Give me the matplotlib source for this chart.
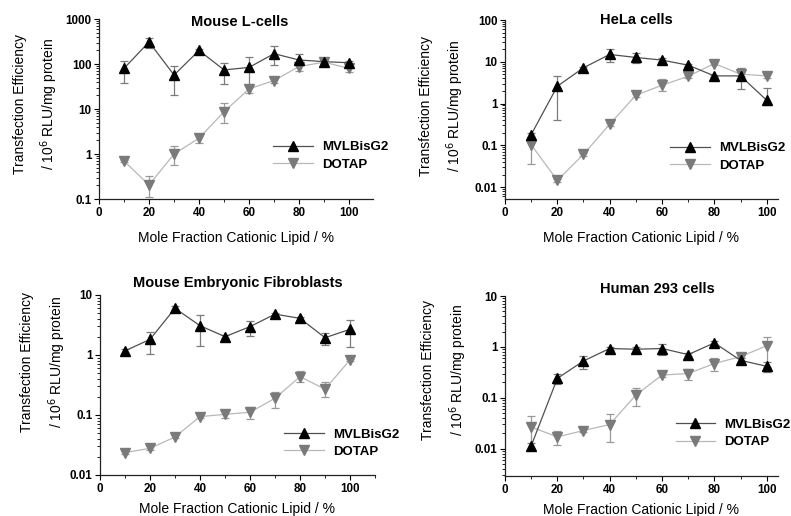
import matplotlib
matplotlib.use("Agg")
import matplotlib.pyplot as plt
import numpy as np
from matplotlib.ticker import FuncFormatter, LogLocator, MultipleLocator, NullFormatter

plt.rcParams['font.family'] = ['Liberation Sans', 'DejaVu Sans']

x = [10, 20, 30, 40, 50, 60, 70, 80, 90, 100]
series_names = ["MVLBisG2", "DOTAP"]
titles = ["Mouse L-cells", "HeLa cells", "Mouse Embryonic Fibroblasts", "Human 293 cells"]

# Mouse L-cells
l_mvl = [80, 310, 57, 200, 74, 84, 170, 123, 113, 107]
l_mvl_lo = [38, 225, 20, 185, 36, 35, 95, 103, 105, 100]
l_mvl_hi = [117, 385, 92, 220, 108, 143, 250, 170, 120, 115]
l_dot = [0.70, 0.205, 1.0, 2.25, 8.7, 28, 43, 88, 110, 80]
l_dot_lo = [0.65, 0.11, 0.56, 1.8, 4.8, 23, 38, 70, 100, 68]
l_dot_hi = [0.75, 0.33, 1.48, 2.7, 13.4, 34, 48, 103, 120, 95]

# HeLa cells
h_mvl = [0.18, 2.6, 7.2, 15, 12.7, 11, 8.3, 4.6, 4.6, 1.2]
h_mvl_lo = [0.15, 0.4, 6.8, 10, 9.5, 10, 7.8, 4.3, 2.2, 0.9]
h_mvl_hi = [0.2, 4.6, 7.6, 19.8, 16, 12, 8.8, 4.9, 7.3, 2.3]
h_dot = [0.104, 0.0145, 0.061, 0.32, 1.58, 2.75, 4.5, 9.1, 5.06, 4.6]
h_dot_lo = [0.035, 0.013, 0.055, 0.29, 1.45, 1.95, 4.2, 8.5, 4.5, 4.2]
h_dot_hi = [0.158, 0.016, 0.067, 0.35, 1.7, 3.9, 4.8, 9.7, 5.6, 5.0]

# Mouse Embryonic Fibroblasts
m_mvl = [1.17, 1.82, 6.0, 3.08, 2.02, 2.97, 4.8, 4.08, 1.94, 2.68]
m_mvl_lo = [1.08, 1.04, 5.6, 1.43, 1.9, 2.07, 4.5, 3.8, 1.47, 1.36]
m_mvl_hi = [1.27, 2.45, 6.6, 4.64, 2.15, 3.7, 5.1, 4.3, 2.3, 3.88]
m_dot = [0.0236, 0.0278, 0.043, 0.094, 0.1025, 0.111, 0.19, 0.435, 0.27, 0.83]
m_dot_lo = [0.022, 0.026, 0.041, 0.088, 0.09, 0.086, 0.13, 0.35, 0.2, 0.8]
m_dot_hi = [0.025, 0.03, 0.046, 0.1, 0.115, 0.134, 0.245, 0.54, 0.36, 0.87]

# Human 293 cells
k_mvl = [0.0113, 0.24, 0.53, 0.93, 0.9, 0.93, 0.706, 1.2, 0.545, 0.416]
k_mvl_lo = [0.0098, 0.19, 0.37, 0.86, 0.8, 0.68, 0.66, 1.1, 0.5, 0.32]
k_mvl_hi = [0.013, 0.29, 0.65, 1.0, 1.0, 1.16, 0.75, 1.3, 0.6, 0.5]
k_dot = [0.0268, 0.017, 0.0227, 0.0298, 0.113, 0.28, 0.30, 0.47, 0.645, 1.05]
k_dot_lo = [0.0093, 0.0116, 0.021, 0.0135, 0.07, 0.26, 0.22, 0.33, 0.6, 0.4]
k_dot_hi = [0.043, 0.022, 0.025, 0.0476, 0.153, 0.30, 0.37, 0.6, 0.7, 1.58]

panels = [
    dict(mvl=(l_mvl, l_mvl_lo, l_mvl_hi), dot=(l_dot, l_dot_lo, l_dot_hi), ylim=(0.1, 1000), xmax=109.6,
         pos=[0.1252, 0.6143, 0.3464, 0.3488], title_xy=(0.515, 0.985), ylab=(-0.141, 0.53), xlab=-0.178,
         leg=(0.635, 0.322)),
    dict(mvl=(h_mvl, h_mvl_lo, h_mvl_hi), dot=(h_dot, h_dot_lo, h_dot_hi), ylim=(0.0052, 100), xmax=104.3,
         pos=[0.6384, 0.6143, 0.3451, 0.3469], title_xy=(0.48, 1.0), ylab=(-0.141, 0.52), xlab=-0.178,
         leg=(0.605, 0.318)),
    dict(mvl=(m_mvl, m_mvl_lo, m_mvl_hi), dot=(m_dot, m_dot_lo, m_dot_hi), ylim=(0.01, 10), xmax=110,
         pos=[0.1264, 0.0795, 0.3477, 0.3488], title_xy=(0.5, 1.067), ylab=(-0.118, 0.63), xlab=-0.15,
         leg=(0.67, 0.258)),
    dict(mvl=(k_mvl, k_mvl_lo, k_mvl_hi), dot=(k_dot, k_dot_lo, k_dot_hi), ylim=(0.0029, 10), xmax=104.3,
         pos=[0.6384, 0.0775, 0.3451, 0.3488], title_xy=(0.557, 1.039), ylab=(-0.133, 0.59), xlab=-0.15,
         leg=(0.625, 0.318)),
]

fig = plt.figure(figsize=(7.91, 5.16), dpi=100)

def fmt(v, pos):
    return "%g" % v

for title, p in zip(titles, panels):
    ax = fig.add_axes(p["pos"])
    ax.set_yscale("log")
    # DOTAP
    y, lo, hi = (np.array(a, dtype=float) for a in p["dot"])
    ax.errorbar(x, y, yerr=[y - lo, hi - y], fmt="none", ecolor="#9a9a9a", elinewidth=0.9,
                capsize=3, capthick=0.9, zorder=2)
    ax.plot(x, y, color="#b8b8b8", lw=0.9, marker="v", ms=6.5, mfc="#7a7a7a", mec="#7a7a7a",
            label=series_names[1], zorder=3)
    # MVLBisG2
    y, lo, hi = (np.array(a, dtype=float) for a in p["mvl"])
    ax.errorbar(x, y, yerr=[y - lo, hi - y], fmt="none", ecolor="#7c7c7c", elinewidth=0.9,
                capsize=3, capthick=0.9, zorder=4)
    ax.plot(x, y, color="#505050", lw=0.9, marker="^", ms=6.5, mfc="black", mec="black",
            label=series_names[0], zorder=5)

    ax.set_xlim(0, p["xmax"])
    ax.set_ylim(*p["ylim"])
    ax.spines["top"].set_visible(False)
    ax.spines["right"].set_visible(False)
    for s in ("left", "bottom"):
        ax.spines[s].set_linewidth(0.9)
        ax.spines[s].set_color("#222222")
    ax.xaxis.set_major_locator(MultipleLocator(20))
    ax.xaxis.set_minor_locator(MultipleLocator(10))
    ax.yaxis.set_major_locator(LogLocator(base=10, numticks=20))
    ax.yaxis.set_minor_locator(LogLocator(base=10, subs=np.arange(2, 10), numticks=50))
    ax.yaxis.set_major_formatter(FuncFormatter(fmt))
    ax.yaxis.set_minor_formatter(NullFormatter())
    ax.tick_params(which="major", direction="out", length=3.5, width=0.8, pad=2, labelsize=8.4)
    ax.tick_params(which="minor", direction="out", length=2, width=0.6)
    for lab in ax.get_xticklabels() + ax.get_yticklabels():
        lab.set_fontweight("bold")

    ax.text(p["title_xy"][0], p["title_xy"][1], title, transform=ax.transAxes, ha="center", va="center",
            fontsize=10.5, fontweight="bold")
    ax.set_ylabel("Transfection Efficiency\n/ 10$^6$ RLU/mg protein", fontsize=10, linespacing=1.75)
    ax.yaxis.set_label_coords(*p["ylab"])
    ax.set_xlabel("Mole Fraction Cationic Lipid / %", fontsize=10)
    ax.xaxis.set_label_coords(0.5, p["xlab"])

    h, l = ax.get_legend_handles_labels()
    order = [l.index(series_names[0]), l.index(series_names[1])]
    ax.legend([h[i] for i in order], [l[i] for i in order], loc="upper left",
              bbox_to_anchor=p["leg"], frameon=False, borderpad=0, borderaxespad=0,
              handlelength=3.0, handletextpad=0.7, labelspacing=0.38,
              prop=dict(weight="bold", size=9.5))

fig.savefig("out.png", dpi=100)
